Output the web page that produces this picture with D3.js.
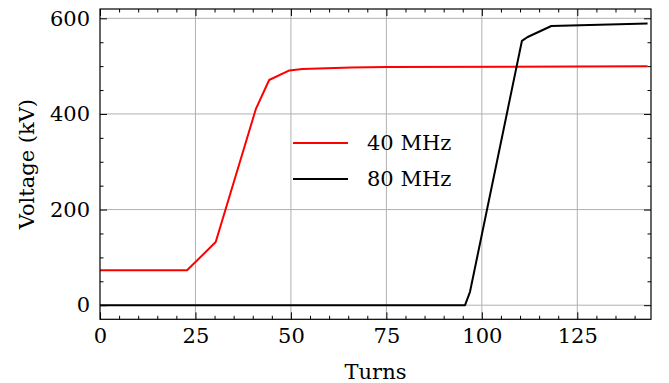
<!DOCTYPE html>
<html>
<head>
<meta charset="utf-8">
<script src="https://cdn.jsdelivr.net/npm/d3@7"></script>
<style>
  html, body { margin: 0; padding: 0; background: #fff; }
  svg text { font-family: "DejaVu Serif", "Liberation Serif", serif; fill: #000; }
</style>
</head>
<body>
<div id="chart"></div>
<script>
// turns / voltage readings (kV)
const turns40 = [0, 22.8, 30.3, 40.8, 44.3, 49.6, 53, 65.8, 75, 143.4];
const volts40 = [73, 73, 132, 410, 471, 491, 494, 497, 498, 500];
const turns80 = [0, 95.6, 96.9, 110.5, 112, 118.2, 143.4];
const volts80 = [0, 0, 28, 553, 561, 584, 589];

const seriesNames = ['40 MHz', '80 MHz'];
const seriesColors = ['#ff0000', '#000000'];

const xTicks = [0, 25, 50, 75, 100, 125];
const yTicks = [0, 200, 400, 600];

const width = 669, height = 383;
const margin = { top: 9, right: 18, bottom: 63.7, left: 100 };
const w = width - margin.left - margin.right;
const h = height - margin.top - margin.bottom;

const svg = d3.select('#chart').append('svg')
  .attr('width', width)
  .attr('height', height);

const g = svg.append('g')
  .attr('transform', `translate(${margin.left},${margin.top})`);

const x = d3.scaleLinear().domain([0, 144.3]).range([0, w]);
const y = d3.scaleLinear().domain([-29.5, 619.5]).range([h, 0]);

const xMinor = d3.range(0, 145, 5).filter(v => !xTicks.includes(v));
const yMinor = d3.range(0, 601, 50).filter(v => !yTicks.includes(v));

// Grid
g.append('g').selectAll('line').data(xTicks.filter(v => v > 0)).join('line')
  .attr('x1', d => x(d)).attr('x2', d => x(d))
  .attr('y1', 0).attr('y2', h)
  .attr('stroke', '#b0b0b0').attr('stroke-width', 1);
g.append('g').selectAll('line').data(yTicks).join('line')
  .attr('x1', 0).attr('x2', w)
  .attr('y1', d => y(d)).attr('y2', d => y(d))
  .attr('stroke', '#b0b0b0').attr('stroke-width', 1);

// Lines
const series = [
  turns40.map((t, i) => ({ t, v: volts40[i] })),
  turns80.map((t, i) => ({ t, v: volts80[i] }))
];
const line = d3.line().x(d => x(d.t)).y(d => y(d.v));
series.forEach((s, i) => {
  g.append('path')
    .datum(s)
    .attr('fill', 'none')
    .attr('stroke', seriesColors[i])
    .attr('stroke-width', 2)
    .attr('stroke-linejoin', 'round')
    .attr('d', line);
});

// Axes: inward ticks on all sides
function styleAxis(sel, hideLabels) {
  sel.select('.domain').remove();
  sel.selectAll('line').attr('stroke', '#000').attr('stroke-width', 1);
  sel.selectAll('text').style('font-size', '21px');
  if (hideLabels) sel.selectAll('text').remove();
}

const addAxis = (axisFn, scale, ticks, size, transform, hide, pad) => {
  const a = g.append('g')
    .attr('transform', transform)
    .call(axisFn(scale).tickValues(ticks).tickSize(-size).tickPadding(pad).tickFormat(d3.format('d')));
  styleAxis(a, hide);
};

addAxis(d3.axisBottom, x, xTicks, 7, `translate(0,${h})`, false, 9);
addAxis(d3.axisBottom, x, xMinor, 3.5, `translate(0,${h})`, true, 9);
addAxis(d3.axisTop, x, xTicks, 7, 'translate(0,0)', true, 9);
addAxis(d3.axisTop, x, xMinor, 3.5, 'translate(0,0)', true, 9);
addAxis(d3.axisLeft, y, yTicks, 7, 'translate(0,0)', false, 10);
addAxis(d3.axisLeft, y, yMinor, 3.5, 'translate(0,0)', true, 10);
addAxis(d3.axisRight, y, yTicks, 7, `translate(${w},0)`, true, 10);
addAxis(d3.axisRight, y, yMinor, 3.5, `translate(${w},0)`, true, 10);

// Frame
g.append('rect')
  .attr('width', w).attr('height', h)
  .attr('fill', 'none').attr('stroke', '#000').attr('stroke-width', 1.2);

// Axis labels
svg.append('text')
  .attr('x', margin.left + w / 2)
  .attr('y', 379)
  .attr('text-anchor', 'middle')
  .style('font-size', '21px')
  .text('Turns');

svg.append('text')
  .attr('transform', `translate(34,${margin.top + h / 2}) rotate(-90)`)
  .attr('text-anchor', 'middle')
  .style('font-size', '21px')
  .text('Voltage (kV)');

// Legend
const legend = svg.append('g').attr('transform', 'translate(293,143)');
seriesNames.forEach((name, i) => {
  const row = legend.append('g').attr('transform', `translate(0,${i * 36})`);
  row.append('line')
    .attr('x1', 0).attr('x2', 55)
    .attr('stroke', seriesColors[i]).attr('stroke-width', 2);
  row.append('text')
    .attr('x', 74).attr('y', 0).attr('dy', '0.35em')
    .style('font-size', '21px')
    .text(name);
});
</script>
</body>
</html>
